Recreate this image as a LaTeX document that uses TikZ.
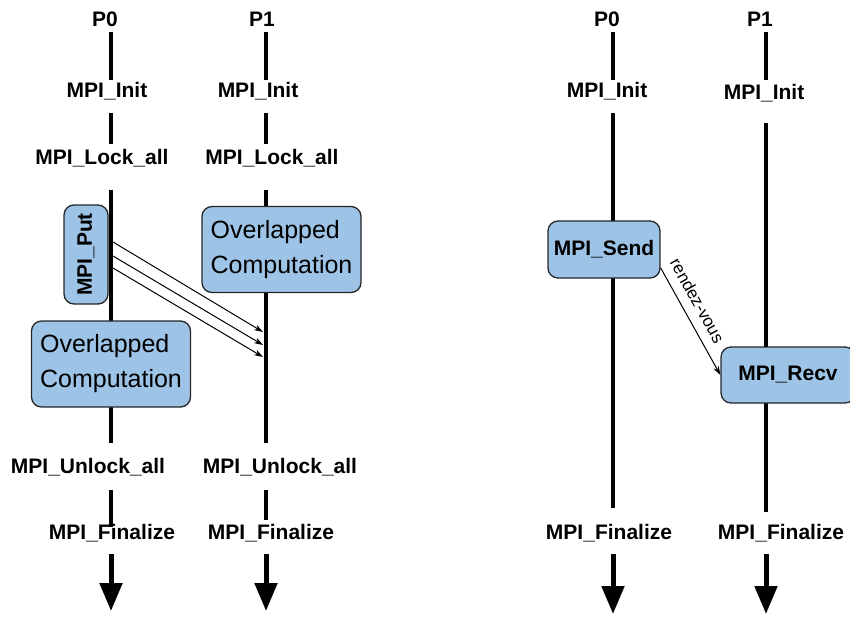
\documentclass[tikz,border=0pt]{standalone}
\usepackage{fontspec}
\setmainfont{Liberation Sans}
\usepackage{xcolor}
\usetikzlibrary{arrows.meta, positioning}

\definecolor{callblue}{RGB}{157,195,230}

\begin{document}
\begin{tikzpicture}[x=1pt, y=-1pt, >=Stealth,
    lbl/.style={font=\bfseries\fontsize{21}{25}\selectfont, text height=16pt, text depth=5pt, inner sep=0pt},
    call/.style={rectangle, rounded corners=10pt, draw=black!85, line width=1.3pt, fill=callblue, inner sep=0pt},
    callb/.style={call, font=\bfseries\fontsize{21}{25}\selectfont},
    comp/.style={call, minimum width=159pt, minimum height=86pt, align=left, font=\fontsize{25}{35}\selectfont},
    seg/.style 2 args={line width=4pt, shorten <=#1, shorten >=#2},
    fin/.style={line width=5pt, shorten <=10pt, -{Triangle[width=22pt,length=28pt]}},
    msg/.style={line width=1pt, -{Stealth[length=9pt,width=6pt]}}]
    \useasboundingbox (0,0) rectangle (850,616);

    % lifelines
    \coordinate (l0) at (111,0);
    \coordinate (l1) at (266,0);
    \coordinate (r0) at (613,0);
    \coordinate (r1) at (766,0);

    % one-sided (put) side
    \node (lp0) [lbl] at (105,20.5) {P0};
    \node (li0) [lbl] at (107,91.5) {MPI\_Init};
    \node (lk0) [lbl] at (102,158.5) {MPI\_Lock\_all};
    \node (lu0) [lbl] at (88,467.5) {MPI\_Unlock\_all};
    \node (lf0) [lbl] at (112,533.5) {MPI\_Finalize};
    \node (lp1) [lbl] at (262,20.5) {P1};
    \node (li1) [lbl] at (258,91.5) {MPI\_Init};
    \node (lk1) [lbl] at (272,158.5) {MPI\_Lock\_all};
    \node (lu1) [lbl] at (280,467.5) {MPI\_Unlock\_all};
    \node (lf1) [lbl] at (271,533.5) {MPI\_Finalize};
    \coordinate (le0) at (111,611);
    \coordinate (le1) at (266,611);

    \draw [seg={1pt}{1pt}] (l0 |- lp0.south) -- (l0 |- li0.north);
    \draw [seg={11pt}{4pt}] (l0 |- li0.south) -- (l0 |- lk0.north);
    \draw [seg={21pt}{14pt}] (l0 |- lk0.south) -- (l0 |- lu0.north);
    \draw [seg={12pt}{-4pt}] (l0 |- lu0.south) -- (l0 |- lf0.north);
    \draw [fin] (l0 |- lf0.south) -- (le0);
    \draw [seg={1pt}{1pt}] (l1 |- lp1.south) -- (l1 |- li1.north);
    \draw [seg={11pt}{4pt}] (l1 |- li1.south) -- (l1 |- lk1.north);
    \draw [seg={21pt}{14pt}] (l1 |- lk1.south) -- (l1 |- lu1.north);
    \draw [seg={12pt}{3pt}] (l1 |- lu1.south) -- (l1 |- lf1.north);
    \draw [fin] (l1 |- lf1.south) -- (le1);

    \node (put) [callb, rotate=90, minimum width=99pt, minimum height=44pt] at (86,254.5) {MPI\_Put};
    \node (ovl0) [comp] at (111,364) {Overlapped\\Computation};
    \node (ovl1) [comp] at (281.5,249.5) {Overlapped\\Computation};

    \foreach \i/\ys/\ye in {1/242/332, 2/256/345, 3/268/357} {
        \coordinate (src\i) at (113,\ys);
        \coordinate (dst\i) at (263,\ye);
        \draw [msg] (src\i) -- (dst\i);
    }

    % two-sided (send/recv) side
    \node (rp0) [lbl] at (607,20.5) {P0};
    \node (ri0) [lbl] at (607,91.5) {MPI\_Init};
    \node (rf0) [lbl] at (609,533.5) {MPI\_Finalize};
    \node (rp1) [lbl] at (760,20.5) {P1};
    \node (ri1) [lbl] at (764,93.5) {MPI\_Init};
    \node (rf1) [lbl] at (781,533.5) {MPI\_Finalize};
    \coordinate (re0) at (613,614);
    \coordinate (re1) at (766,614);

    \draw [seg={1pt}{1pt}] (r0 |- rp0.south) -- (r0 |- ri0.north);
    \draw [seg={11pt}{15pt}] (r0 |- ri0.south) -- (r0 |- rf0.north);
    \draw [fin] (r0 |- rf0.south) -- (re0);
    \draw [seg={1pt}{3pt}] (r1 |- rp1.south) -- (r1 |- ri1.north);
    \draw [seg={19pt}{11pt}] (r1 |- ri1.south) -- (r1 |- rf1.north);
    \draw [fin] (r1 |- rf1.south) -- (re1);

    \node (send) [callb, minimum width=112pt, minimum height=57pt] at (604,249.5) {MPI\_Send};
    \node (recv) [callb, minimum width=134pt, minimum height=56pt] at (788,375) {MPI\_Recv};

    \draw [msg] (send.-18) -- node[above=6pt, sloped, pos=0.38, font=\fontsize{17}{20}\selectfont] {rendez-vous} (recv.west);
\end{tikzpicture}
\end{document}
